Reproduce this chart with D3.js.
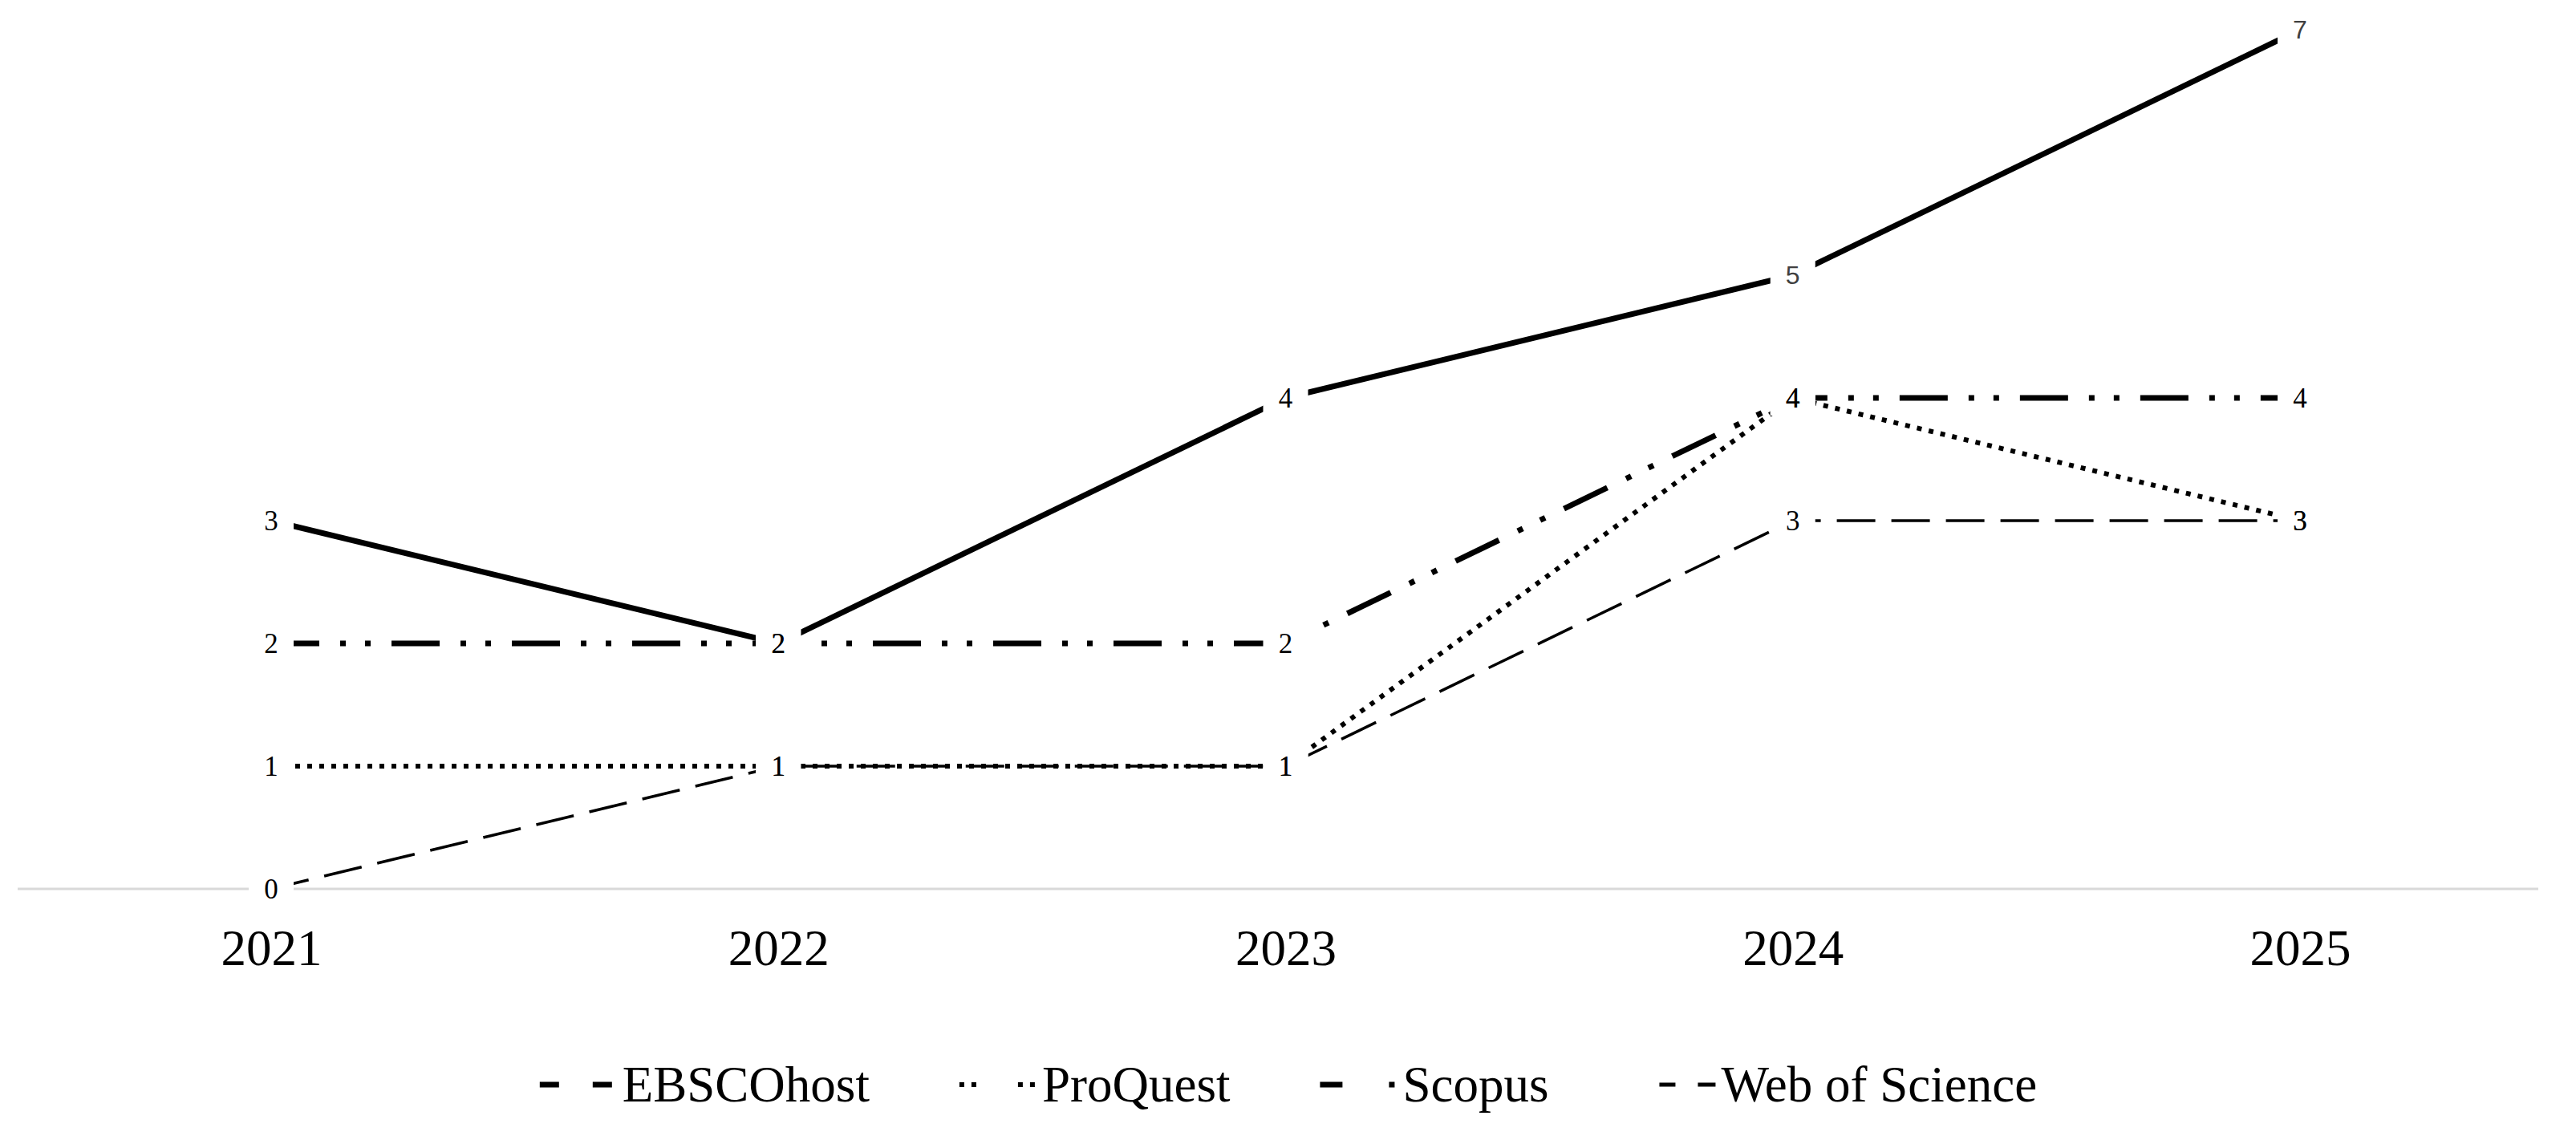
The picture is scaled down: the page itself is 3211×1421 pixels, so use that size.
<!DOCTYPE html>
<html>
<head>
<meta charset="utf-8">
<script src="https://cdn.jsdelivr.net/npm/d3@7/dist/d3.min.js"></script>
<style>
  html, body { margin: 0; padding: 0; background: #ffffff; }
  svg { display: block; }
</style>
</head>
<body>
<svg id="chart" width="3211" height="1421"></svg>
<script>
// ---- data ----
const years = ["2021", "2022", "2023", "2024", "2025"];
const seriesNames = ["EBSCOhost", "ProQuest", "Scopus", "Web of Science"];
const ebscohost = [3, 2, 4, 5, 7];
const proquest = [1, 1, 1, 4, 3];
const scopus = [2, 2, 2, 4, 4];
const webOfScience = [0, 1, 1, 3, 3];
const seriesValues = [ebscohost, proquest, scopus, webOfScience];

// ---- styles ----
const lineStyles = {
  "EBSCOhost":      { width: 7,   dash: null,              legendDash: "24 42", legendWidth: 7 },
  "ProQuest":       { width: 6,   dash: "6 9",             legendDash: "6 9 6 52", legendWidth: 6 },
  "Scopus":         { width: 7,   dash: "60 26 7 24 7 26", legendDash: "28 58 7 200", legendWidth: 7 },
  "Web of Science": { width: 3.5, dash: "48 20",           legendDash: "0 26 20 28 22 100", legendWidth: 5 }
};
const sansLabelKeys = new Set(["EBSCOhost|2024", "EBSCOhost|2025"]);
const serif = "'Liberation Serif', 'Times New Roman', serif";
const sans = "'Liberation Sans', Arial, sans-serif";

const W = 3211, H = 1421;
const plot = { left: 22, right: 3164, firstX: 338, lastX: 2867, top: 37, bottom: 1108 };

const svg = d3.select("#chart");
svg.append("rect").attr("width", W).attr("height", H).attr("fill", "#ffffff");

const x = d3.scalePoint().domain(years).range([plot.firstX, plot.lastX]);
const y = d3.scaleLinear().domain([0, 7]).range([plot.bottom, plot.top]);

// baseline
svg.append("line")
  .attr("x1", plot.left).attr("x2", plot.right)
  .attr("y1", plot.bottom).attr("y2", plot.bottom)
  .attr("stroke", "#d9d9d9").attr("stroke-width", 3);

const xAxis = d3.axisBottom(x).tickSize(0).tickPadding(0);
const axisG = svg.append("g").attr("transform", `translate(0,${plot.bottom})`).call(xAxis);
axisG.select(".domain").remove();
axisG.selectAll(".tick text")
  .attr("font-family", serif).attr("font-size", 63).attr("fill", "#000")
  .attr("dy", null).attr("y", 95);

const series = seriesNames.map((name, i) => ({
  name,
  points: years.map((yr, j) => ({ year: yr, value: seriesValues[i][j] }))
}));

const line = d3.line().x(d => x(d.year)).y(d => y(d.value));

svg.append("g").selectAll("path").data(series).join("path")
  .attr("d", d => line(d.points))
  .attr("fill", "none")
  .attr("stroke", "#000")
  .attr("stroke-width", d => lineStyles[d.name].width)
  .attr("stroke-dasharray", d => lineStyles[d.name].dash)
  .attr("stroke-linejoin", "round");

// data labels
const labels = [];
series.forEach(s => s.points.forEach(p => labels.push({ name: s.name, ...p })));
const lg = svg.append("g");
lg.selectAll("rect").data(labels).join("rect")
  .attr("x", d => x(d.year) - 28)
  .attr("y", d => y(d.value) - 22)
  .attr("width", 56).attr("height", 44)
  .attr("fill", "#ffffff");
const isSans = d => sansLabelKeys.has(d.name + "|" + d.year);
lg.selectAll("text").data(labels).join("text")
  .attr("x", d => x(d.year))
  .attr("y", d => y(d.value))
  .attr("dy", "0.35em")
  .attr("text-anchor", "middle")
  .attr("font-family", d => isSans(d) ? sans : serif)
  .attr("font-size", d => isSans(d) ? 32 : 35)
  .attr("fill", d => isSans(d) ? "#404040" : "#000")
  .text(d => d.value);

// legend
const legendY = 1352;
const symW = 96, symGap = 7, itemGap = 112;
const leg = svg.append("g");
const items = leg.selectAll("g").data(seriesNames).join("g");
items.append("line")
  .attr("x1", 0).attr("x2", symW).attr("y1", 0).attr("y2", 0)
  .attr("stroke", "#000")
  .attr("stroke-width", d => lineStyles[d].legendWidth)
  .attr("stroke-dasharray", d => lineStyles[d].legendDash);
items.append("text")
  .attr("x", symW + symGap).attr("y", 0).attr("dy", "0.33em")
  .attr("font-family", serif).attr("font-size", 63).attr("fill", "#000")
  .text(d => d);
let offs = [], cur = 0;
items.each(function(d) {
  const tw = d3.select(this).select("text").node().getComputedTextLength();
  offs.push(cur);
  cur += symW + symGap + tw + itemGap;
});
const total = cur - itemGap;
const startX = 1606 - total / 2;
items.attr("transform", (d, i) => `translate(${startX + offs[i]},${legendY})`);
</script>
</body>
</html>
